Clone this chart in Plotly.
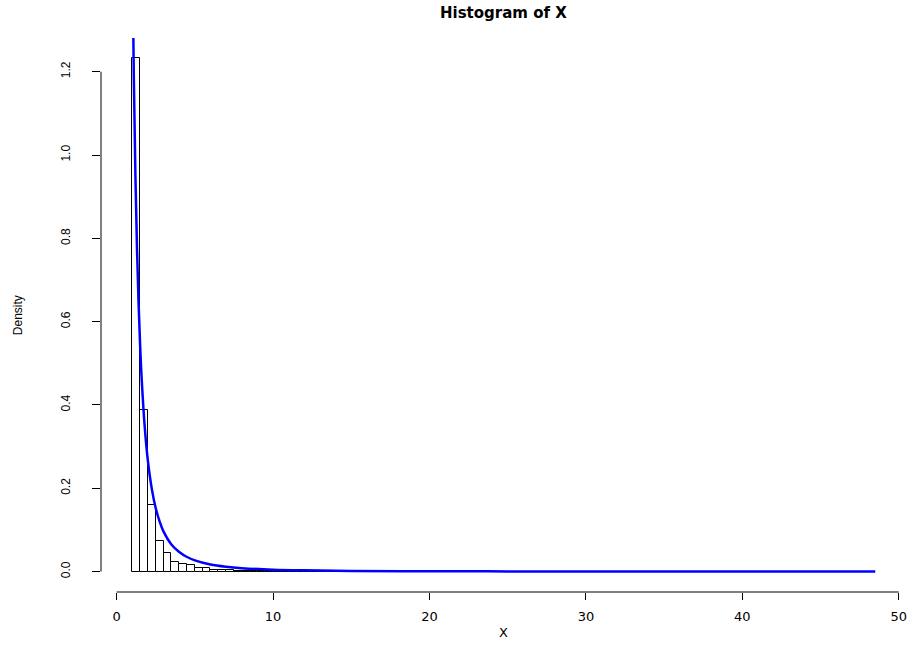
import plotly.graph_objects as go

# Histogram data (density), bins of width 0.5 starting at 1
bin_start = 1.0
bin_width = 0.5
density = [
    1.232, 0.387, 0.161, 0.074, 0.044, 0.024, 0.018, 0.016, 0.009, 0.008,
    0.005, 0.005, 0.003, 0.002, 0.002, 0.002, 0.001, 0.001, 0.001, 0.001,
    0.001, 0.0008, 0.0006, 0.0006, 0.0004, 0.0004, 0.0004, 0.0002, 0.0002, 0.0002,
    0.0002, 0, 0.0002, 0, 0.0002, 0, 0, 0.0002, 0, 0,
    0, 0.0002, 0, 0, 0, 0, 0.0002, 0, 0, 0,
    0, 0, 0.0002, 0, 0, 0, 0, 0, 0, 0,
    0, 0, 0, 0, 0.0002, 0, 0, 0, 0, 0,
    0, 0, 0, 0, 0, 0, 0, 0, 0, 0,
    0, 0, 0, 0, 0, 0, 0, 0, 0, 0,
    0, 0, 0, 0, 0.0002,
]

# Fitted density curve
curve_x = [1, 1.1, 1.2, 1.3, 1.4, 1.5, 1.6, 1.8, 2, 2.25, 2.5, 2.75, 3, 3.5, 4,
           4.5, 5, 6, 7, 8, 10, 12, 15, 20, 25, 30, 35, 40, 48.5]
curve_y = [1.5, 1.182, 0.951, 0.778, 0.647, 0.544, 0.463, 0.345, 0.265, 0.198,
           0.152, 0.120, 0.096, 0.065, 0.047, 0.035, 0.027, 0.017, 0.0116, 0.0083,
           0.0047, 0.0030, 0.0017, 0.00084, 0.00048, 0.0003, 0.0002, 0.00015, 0.00009]

x_ticks = [0, 10, 20, 30, 40, 50]
y_ticks = [0.0, 0.2, 0.4, 0.6, 0.8, 1.0, 1.2]
y_tick_text = ["0.0", "0.2", "0.4", "0.6", "0.8", "1.0", "1.2"]

centers = [bin_start + bin_width * (i + 0.5) for i in range(len(density))]

fig = go.Figure()
fig.add_trace(go.Bar(
    x=centers, y=density, width=bin_width,
    marker=dict(color="white", line=dict(color="black", width=1)),
    showlegend=False, hoverinfo="skip",
))
fig.add_trace(go.Scatter(
    x=curve_x, y=curve_y, mode="lines",
    line=dict(color="#0000ff", width=2.5, shape="spline"),
    showlegend=False,
))

fig.update_layout(
    width=919, height=645,
    margin=dict(l=101, r=14, t=38, b=52.5),
    plot_bgcolor="white", paper_bgcolor="white",
    bargap=0,
    xaxis=dict(
        range=[-1.0, 50.4], tickvals=x_ticks, ticktext=[str(v) for v in x_ticks],
        showgrid=False, zeroline=False, showline=False,
        ticks="outside", ticklen=7, tickcolor="black", tickwidth=1,
        ticklabelstandoff=5,
        tickfont=dict(family="DejaVu Sans", size=13, color="black"),
    ),
    yaxis=dict(
        range=[-0.049, 1.281], tickvals=y_ticks, ticktext=y_tick_text,
        showgrid=False, zeroline=False, showline=False,
        ticks="outside", ticklen=8, tickcolor="black", tickwidth=1,
        tickangle=-90, ticklabelstandoff=17,
        tickfont=dict(family="Liberation Sans Narrow, Liberation Sans", size=12, color="black"),
    ),
    shapes=[
        dict(type="line", xref="x", yref="paper", x0=0, x1=50, y0=0, y1=0,
             line=dict(color="black", width=1)),
        dict(type="line", xref="paper", yref="y", x0=0, x1=0, y0=0, y1=1.2,
             line=dict(color="black", width=1)),
    ],
    annotations=[
        dict(text="<b>Histogram of X</b>", xref="paper", yref="paper",
             x=0.5, y=1.045, xanchor="center", yanchor="middle", showarrow=False,
             font=dict(family="DejaVu Sans", size=15, color="black")),
        dict(text="X", xref="paper", yref="paper",
             x=0.5, y=-0.073, xanchor="center", yanchor="middle", showarrow=False,
             font=dict(family="DejaVu Sans", size=13, color="black")),
        dict(text="Density", xref="paper", yref="paper", textangle=-90,
             x=-0.103, y=0.5, xanchor="center", yanchor="middle", showarrow=False,
             font=dict(family="Liberation Sans Narrow, Liberation Sans", size=12, color="black")),
    ],
)

fig.write_html(
    "out.html",
    config={"displayModeBar": False},
    post_script="document.body.style.margin='0';document.body.style.overflow='hidden';",
)
